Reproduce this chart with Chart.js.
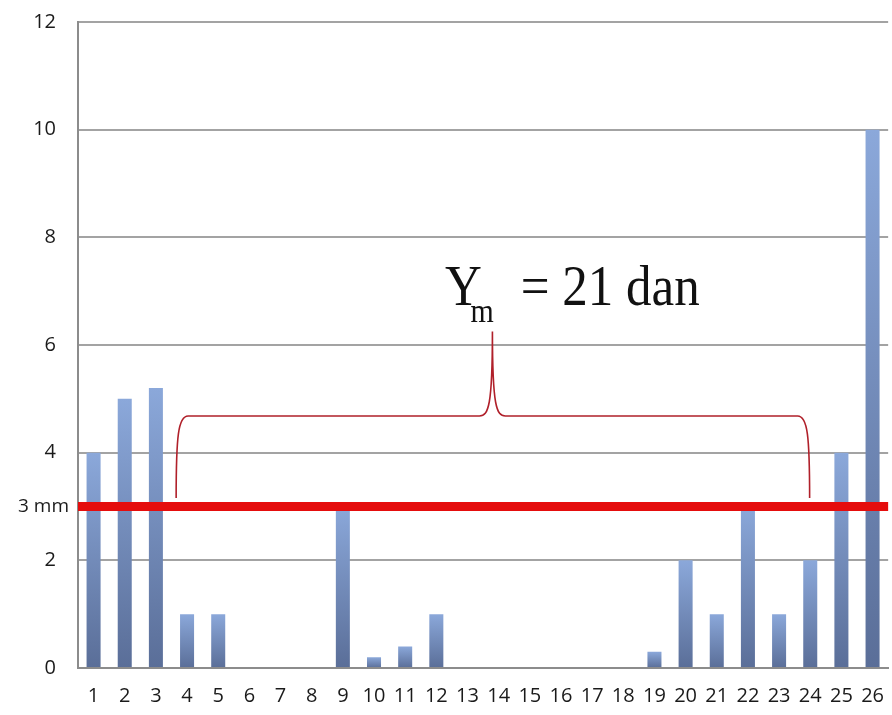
<!DOCTYPE html>
<html>
<head>
<meta charset="utf-8">
<script src="https://cdn.jsdelivr.net/npm/chart.js@4/dist/chart.umd.min.js"></script>
<style>
  html, body { margin: 0; padding: 0; background: #fff; }
  #wrap { width: 892px; height: 715px; }
</style>
</head>
<body>
<div id="wrap"><canvas id="chart" width="892" height="715"></canvas></div>
<script>
  // data
  var categories = [];
  for (var i = 1; i <= 26; i++) categories.push(String(i));
  var values = [4, 5, 5.2, 1, 1, 0, 0, 0, 3, 0.2, 0.4, 1, 0, 0, 0, 0, 0, 0, 0.3, 2, 1, 3, 1, 2, 4, 10];
  var yTicks = [0, 2, 4, 6, 8, 10, 12];
  var limitValue = 3;
  var limitLabel = "3 mm";
  // brace, in data units (category index / value)
  var braceFrom = 2.65, braceTo = 22.98, bracePeak = 12.8;
  var braceLow = 3.16, braceHigh = 4.68, braceTop = 6.25;
  var noteAt = [11.28, 6.75];

  var tickFont = { family: "'Open Sans', sans-serif", size: 20 };

  // Bar gradient, light at top, dark at bottom
  function barColor(ctx) {
    var chart = ctx.chart;
    if (!chart.chartArea || ctx.type !== "data") return "#7b95c4";
    var y = chart.scales.y;
    var top = y.getPixelForValue(ctx.raw);
    var bottom = y.getPixelForValue(0);
    if (bottom - top < 1) return "#7b95c4";
    var g = chart.ctx.createLinearGradient(0, top, 0, bottom);
    g.addColorStop(0, "#8ba8da");
    g.addColorStop(1, "#5a6e98");
    return g;
  }

  // Red limit line, brace and note
  var extras = {
    id: "extras",
    afterDatasetsDraw: function (chart) {
      var ctx = chart.ctx;
      var x = chart.scales.x, y = chart.scales.y;
      var area = chart.chartArea;

      // limit line
      var ly = y.getPixelForValue(limitValue);
      ctx.save();
      ctx.strokeStyle = "#e50d0d";
      ctx.lineWidth = 9;
      ctx.beginPath();
      ctx.moveTo(area.left, ly);
      ctx.lineTo(area.right, ly);
      ctx.stroke();

      ctx.fillStyle = "#1a1a1a";
      ctx.font = "19px 'Open Sans', sans-serif";
      ctx.textAlign = "right";
      ctx.textBaseline = "middle";
      ctx.fillText(limitLabel, area.left - 9, ly);

      // brace
      var x0 = x.getPixelForValue(braceFrom), x1 = x.getPixelForValue(braceTo);
      var xm = x.getPixelForValue(bracePeak);
      var yl = y.getPixelForValue(braceLow), yh = y.getPixelForValue(braceHigh);
      var yt = y.getPixelForValue(braceTop);
      ctx.strokeStyle = "#b0202a";
      ctx.lineWidth = 1.6;
      ctx.beginPath();
      ctx.moveTo(x0, yl);
      ctx.bezierCurveTo(x0, yh + 20, x0 + 2, yh, x0 + 12, yh);
      ctx.lineTo(xm - 13, yh);
      ctx.bezierCurveTo(xm - 4, yh, xm, yh - 10, xm, yt);
      ctx.bezierCurveTo(xm, yh - 10, xm + 4, yh, xm + 13, yh);
      ctx.lineTo(x1 - 12, yh);
      ctx.bezierCurveTo(x1 - 2, yh, x1, yh + 20, x1, yl);
      ctx.stroke();

      // note Y_m = 21 dan
      var nx = x.getPixelForValue(noteAt[0]), ny = y.getPixelForValue(noteAt[1]);
      ctx.fillStyle = "#111";
      ctx.textAlign = "left";
      ctx.textBaseline = "alphabetic";
      ctx.translate(nx, ny);
      ctx.scale(0.88, 1);
      ctx.font = "58px 'Liberation Serif', serif";
      ctx.fillText("Y", 0, 0);
      ctx.font = "34px 'Liberation Serif', serif";
      ctx.fillText("m", 29, 17);
      ctx.font = "58px 'Liberation Serif', serif";
      ctx.fillText("= 21 dan", 86, 0);
      ctx.restore();
    }
  };

  new Chart(document.getElementById("chart"), {
    type: "bar",
    data: {
      labels: categories,
      datasets: [{
        data: values,
        backgroundColor: barColor,
        barPercentage: 0.45,
        categoryPercentage: 1
      }]
    },
    options: {
      responsive: false,
      animation: false,
      layout: { padding: { top: 22, right: 0, left: 0, bottom: 0 } },
      plugins: { legend: { display: false }, tooltip: { enabled: false } },
      scales: {
        x: {
          grid: { display: false },
          border: { display: true, color: "#8c8c8c", width: 2 },
          ticks: { font: tickFont, color: "#1a1a1a", padding: 8, maxRotation: 0, autoSkip: false },
          afterFit: function (s) { s.height = 47; }
        },
        y: {
          min: 0,
          max: 12,
          afterBuildTicks: function (s) { s.ticks = yTicks.map(function (v) { return { value: v }; }); },
          grid: { color: "#a3a3a3", lineWidth: 2, drawTicks: true, tickLength: 20, tickColor: "rgba(0,0,0,0)" },
          border: { display: true, color: "#8c8c8c", width: 2 },
          ticks: { font: tickFont, color: "#1a1a1a", padding: 2 },
          afterFit: function (s) { s.width = 78; }
        }
      }
    },
    plugins: [extras]
  });
</script>
</body>
</html>
